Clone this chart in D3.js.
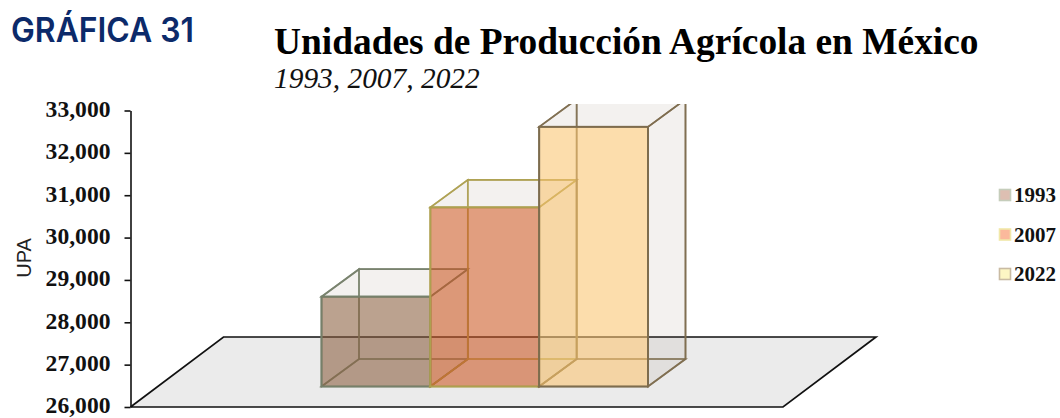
<!DOCTYPE html>
<html><head><meta charset="utf-8">
<script src="https://cdn.jsdelivr.net/npm/d3@7/dist/d3.min.js"></script>
<style>html,body{margin:0;padding:0;background:#fff}svg{display:block}</style>
</head><body><svg id="c" width="1060" height="418"></svg>
<script>
const categories = ["1993","2007","2022"];
const values = [28120,30230,32130];
const tickValues = [26000,27000,28000,29000,30000,31000,32000,33000];
const fillColors = ["#885B3A","#CD541D","#FFC66F"];
const edgeColors = ["#76806A","#ADA050","#7D6C4E"];
const legendFill = ["#DDBFB2","#FBB99C","#FDF6C4"];
const legendEdge = ["#C5CDBB","#F1E8A8","#C9BBA3"];
const yearsLabel = "1993, 2007, 2022";

const svg = d3.select("#c");
const serif = "'Liberation Serif',serif";

const y = d3.scaleLinear().domain([26000,33000]).range([407,110.5]);
const x = d3.scaleBand().domain(categories).range([321.5,648]).padding(0);
const FLOOR = {x0:130.5,x1:783,dx:93,dy:-70};
const DEPTH = {dx:37.5,dy:-27.5};
const BAR_SHIFT = -20.5;

svg.append("defs").append("clipPath").attr("id","plot")
  .append("rect").attr("x",0).attr("y",104).attr("width",1060).attr("height",314);

// Title block
svg.append("text").attr("x",11).attr("y",42).attr("font-family","Inter,sans-serif").attr("font-weight",600)
  .attr("font-size",34).attr("fill","#0C2A6A").attr("textLength",183).attr("lengthAdjust","spacingAndGlyphs").text("GRÁFICA 31");
svg.append("text").attr("x",274).attr("y",54).attr("font-family",serif).attr("font-weight",700)
  .attr("font-size",37.4).attr("fill","#000").text("Unidades de Producción Agrícola en México");
svg.append("text").attr("x",274).attr("y",88).attr("font-family",serif).attr("font-style","italic")
  .attr("font-size",29.4).attr("fill","#111").text(yearsLabel);

// Floor
const line = d3.line();
const floorPts = [[FLOOR.x0,y(26000)],[FLOOR.x1,y(26000)],[FLOOR.x1+FLOOR.dx,y(26000)+FLOOR.dy],[FLOOR.x0+FLOOR.dx,y(26000)+FLOOR.dy]];
svg.append("path").attr("d",line(floorPts)+"Z").attr("fill","#EBEBEB").attr("stroke","none");
svg.append("path").attr("d",line([floorPts[0],floorPts[3],floorPts[2],floorPts[1],floorPts[0]]))
  .attr("fill","none").attr("stroke","#111").attr("stroke-width",1.7);

// Bars
const g = svg.append("g").attr("clip-path","url(#plot)");
const data = categories.map((c,i)=>({c,v:values[i],fill:fillColors[i],edge:edgeColors[i]}));
const bars = g.selectAll("g.bar").data(data).join("g").attr("class","bar");
bars.each(function(d){
  const s = d3.select(this);
  const l = x(d.c), r = l+x.bandwidth();
  const b = y(26000)+BAR_SHIFT, t = y(d.v)+BAR_SHIFT;
  const dx = DEPTH.dx, dy = DEPTH.dy;
  const shade = "#8A7A60";
  // hidden faces: back, bottom, left
  const back = [[l+dx,b+dy],[r+dx,b+dy],[r+dx,t+dy],[l+dx,t+dy]];
  const bottom = [[l,b],[r,b],[r+dx,b+dy],[l+dx,b+dy]];
  const left = [[l,b],[l+dx,b+dy],[l+dx,t+dy],[l,t]];
  [back,bottom,left].forEach(f=>s.append("path").attr("d",line(f)+"Z").attr("fill",shade).attr("fill-opacity",0.05));
  [back,bottom,left].forEach(f=>s.append("path").attr("d",line(f)+"Z").attr("fill","none").attr("stroke",d.edge).attr("stroke-opacity",.75).attr("stroke-width",1.7));
  // top and right
  const top = [[l,t],[r,t],[r+dx,t+dy],[l+dx,t+dy]];
  const right = [[r,b],[r+dx,b+dy],[r+dx,t+dy],[r,t]];
  [top,right].forEach(f=>s.append("path").attr("d",line(f)+"Z").attr("fill",shade).attr("fill-opacity",0.05).attr("stroke",d.edge).attr("stroke-opacity",.9).attr("stroke-width",1.7));
  // front
  s.append("rect").attr("x",l).attr("y",t).attr("width",r-l).attr("height",b-t)
    .attr("fill",d.fill).attr("fill-opacity",0.55).attr("stroke",d.edge).attr("stroke-width",2);
});

// Axis
const axis = d3.axisLeft(y).tickValues(tickValues).tickFormat(d3.format(",")).tickSize(6).tickSizeOuter(0).tickPadding(14);
const ag = svg.append("g").attr("transform","translate(130.5,0)").call(axis);
ag.selectAll("path,line").attr("stroke","#111").attr("stroke-width",1.6);
ag.selectAll("text").attr("font-family",serif).attr("font-weight",700).attr("font-size",23.6).attr("fill","#111").attr("dy","0.25em");

// Y title
svg.append("text").attr("transform","translate(31,258) rotate(-90)").attr("text-anchor","middle")
  .attr("font-family","'Liberation Sans',Arial,sans-serif").attr("font-size",20).attr("fill","#222").text("UPA");

// Legend
const legendY = d3.scalePoint().domain(categories).range([195,274]);
const lg = svg.selectAll("g.lg").data(categories).join("g").attr("class","lg")
  .attr("transform",d=>`translate(999,${legendY(d)})`);
lg.append("rect").attr("x",0.5).attr("y",-5.5).attr("width",11).attr("height",11)
  .attr("fill",(d,i)=>legendFill[i]).attr("stroke",(d,i)=>legendEdge[i]).attr("stroke-width",1.6);
lg.append("text").attr("x",15).attr("y",7).attr("font-family",serif).attr("font-weight",700).attr("font-size",21).attr("fill","#111").text(d=>d);
</script></body></html>
